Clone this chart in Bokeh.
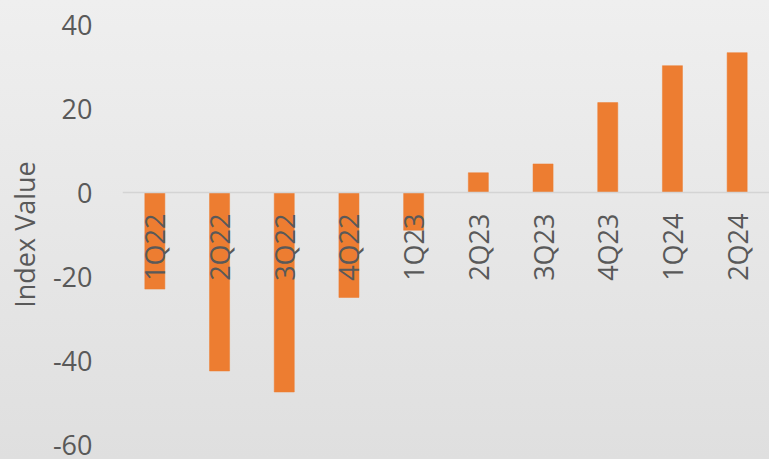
from bokeh.plotting import figure
from bokeh.models import ColumnDataSource, FactorRange, Range1d, Span, FixedTicker
from bokeh.core.properties import value
from bokeh.embed import file_html
from bokeh.resources import INLINE
import math

quarters = ["1Q22", "2Q22", "3Q22", "4Q22", "1Q23", "2Q23", "3Q23", "4Q23", "1Q24", "2Q24"]
index_values = [-23.0, -42.5, -47.5, -25.0, -9.0, 4.7, 6.8, 21.4, 30.2, 33.3]
y_ticks = [-60, -40, -20, 0, 20, 40]
y_tick_labels = ["-60", "-40", "-20", "0", "20", "40"]

FONT = "Open Sans"
TEXT_COLOR = "#595959"
BAR_COLOR = "#ED7D31"

src = ColumnDataSource(data=dict(q=quarters, v=index_values, zero=[0] * len(quarters)))

p = figure(
    width=769, height=459,
    x_range=FactorRange(factors=quarters, range_padding=0),
    y_range=Range1d(-60, 40),
    output_backend="svg", toolbar_location=None,
    x_axis_location=None,
    min_border_left=122, min_border_right=0, min_border_top=24, min_border_bottom=15,
)
p.styles = {"background": "linear-gradient(to bottom, #efefef, #dfdfdf)"}
p.border_fill_alpha = 0
p.background_fill_alpha = 0
p.outline_line_color = None
p.xgrid.visible = False
p.ygrid.visible = False

p.vbar(x="q", top="v", bottom=0, width=0.31, source=src,
       fill_color=BAR_COLOR, line_color=BAR_COLOR, line_width=0.5)

p.add_layout(Span(location=0, dimension="width", line_color="#d4d4d4", line_width=1.5))

p.text(x="q", y="zero", text="q", source=src, angle=math.pi / 2,
       text_align="right", text_baseline="middle", y_offset=21,
       text_font=value(FONT), text_font_size="27px", text_color=TEXT_COLOR)

ax = p.yaxis[0]
ax.ticker = FixedTicker(ticks=y_ticks)
ax.major_label_overrides = {t: s for t, s in zip(y_ticks, y_tick_labels)}
ax.axis_line_color = None
ax.major_tick_line_color = None
ax.minor_tick_line_color = None
ax.major_tick_in = 0
ax.major_tick_out = 0
ax.major_label_text_font = FONT
ax.major_label_text_font_size = "27px"
ax.major_label_text_color = TEXT_COLOR
ax.major_label_standoff = 30
ax.axis_label = "Index Value"
ax.axis_label_text_font = FONT
ax.axis_label_text_font_size = "27px"
ax.axis_label_text_font_style = "normal"
ax.axis_label_text_color = TEXT_COLOR
ax.axis_label_standoff = 7

open("out.html", "w").write(file_html(p, INLINE))
